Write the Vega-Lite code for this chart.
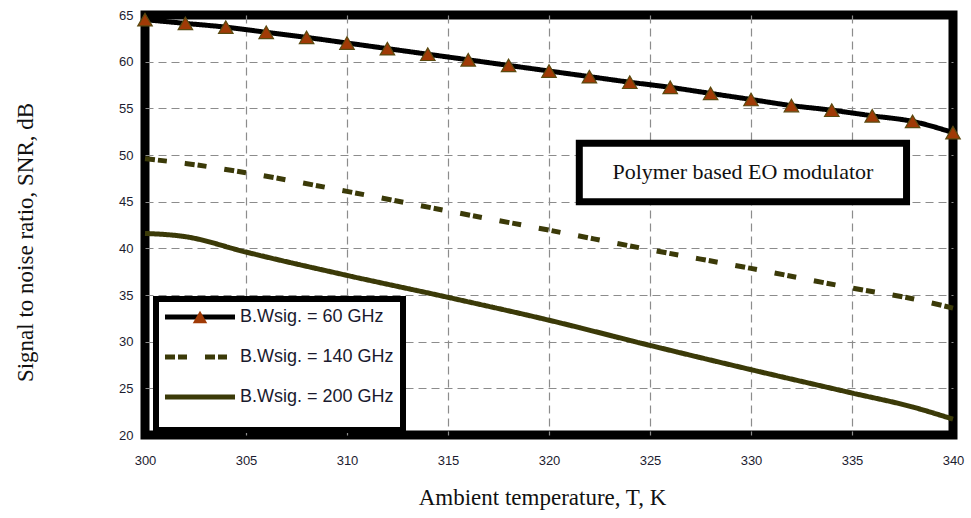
{
  "$schema": "https://vega.github.io/schema/vega-lite/v6.json",
  "width": 808,
  "height": 420,
  "autosize": "none",
  "padding": {"left": 145, "top": 15, "right": 18, "bottom": 83},
  "background": "white",
  "config": {
    "view": {"stroke": "black", "strokeWidth": 9},
    "axis": {
      "grid": true, "gridColor": "#8c8c8c", "gridDash": [8, 5], "gridWidth": 1.2,
      "ticks": false, "domain": false, "labelFlush": false,
      "labelFont": "Liberation Sans", "labelFontSize": 13, "labelColor": "#1c1c30",
      "titleFont": "Liberation Serif", "titleFontWeight": "normal", "titleColor": "#111111"
    }
  },
  "data": {"values": [
    {"T": 300, "snr": 64.5, "series": "B.Wsig. = 60 GHz"},
    {"T": 302, "snr": 64.1, "series": "B.Wsig. = 60 GHz"},
    {"T": 304, "snr": 63.7, "series": "B.Wsig. = 60 GHz"},
    {"T": 306, "snr": 63.15, "series": "B.Wsig. = 60 GHz"},
    {"T": 308, "snr": 62.6, "series": "B.Wsig. = 60 GHz"},
    {"T": 310, "snr": 62.0, "series": "B.Wsig. = 60 GHz"},
    {"T": 312, "snr": 61.4, "series": "B.Wsig. = 60 GHz"},
    {"T": 314, "snr": 60.8, "series": "B.Wsig. = 60 GHz"},
    {"T": 316, "snr": 60.2, "series": "B.Wsig. = 60 GHz"},
    {"T": 318, "snr": 59.6, "series": "B.Wsig. = 60 GHz"},
    {"T": 320, "snr": 59.0, "series": "B.Wsig. = 60 GHz"},
    {"T": 322, "snr": 58.4, "series": "B.Wsig. = 60 GHz"},
    {"T": 324, "snr": 57.8, "series": "B.Wsig. = 60 GHz"},
    {"T": 326, "snr": 57.25, "series": "B.Wsig. = 60 GHz"},
    {"T": 328, "snr": 56.6, "series": "B.Wsig. = 60 GHz"},
    {"T": 330, "snr": 55.95, "series": "B.Wsig. = 60 GHz"},
    {"T": 332, "snr": 55.3, "series": "B.Wsig. = 60 GHz"},
    {"T": 334, "snr": 54.8, "series": "B.Wsig. = 60 GHz"},
    {"T": 336, "snr": 54.2, "series": "B.Wsig. = 60 GHz"},
    {"T": 338, "snr": 53.6, "series": "B.Wsig. = 60 GHz"},
    {"T": 340, "snr": 52.4, "series": "B.Wsig. = 60 GHz"},
    {"T": 300, "snr": 49.6, "series": "B.Wsig. = 140 GHz"},
    {"T": 302, "snr": 49.1, "series": "B.Wsig. = 140 GHz"},
    {"T": 305, "snr": 48.1, "series": "B.Wsig. = 140 GHz"},
    {"T": 310, "snr": 46.1, "series": "B.Wsig. = 140 GHz"},
    {"T": 315, "snr": 44.0, "series": "B.Wsig. = 140 GHz"},
    {"T": 320, "snr": 41.95, "series": "B.Wsig. = 140 GHz"},
    {"T": 325, "snr": 39.85, "series": "B.Wsig. = 140 GHz"},
    {"T": 330, "snr": 37.85, "series": "B.Wsig. = 140 GHz"},
    {"T": 335, "snr": 35.75, "series": "B.Wsig. = 140 GHz"},
    {"T": 338, "snr": 34.6, "series": "B.Wsig. = 140 GHz"},
    {"T": 340, "snr": 33.6, "series": "B.Wsig. = 140 GHz"},
    {"T": 300, "snr": 41.6, "series": "B.Wsig. = 200 GHz"},
    {"T": 302, "snr": 41.25, "series": "B.Wsig. = 200 GHz"},
    {"T": 305, "snr": 39.6, "series": "B.Wsig. = 200 GHz"},
    {"T": 310, "snr": 37.1, "series": "B.Wsig. = 200 GHz"},
    {"T": 315, "snr": 34.75, "series": "B.Wsig. = 200 GHz"},
    {"T": 320, "snr": 32.3, "series": "B.Wsig. = 200 GHz"},
    {"T": 325, "snr": 29.6, "series": "B.Wsig. = 200 GHz"},
    {"T": 330, "snr": 27.0, "series": "B.Wsig. = 200 GHz"},
    {"T": 335, "snr": 24.5, "series": "B.Wsig. = 200 GHz"},
    {"T": 338, "snr": 23.0, "series": "B.Wsig. = 200 GHz"},
    {"T": 340, "snr": 21.7, "series": "B.Wsig. = 200 GHz"}
  ]},
  "layer": [
    {
      "mark": {"type": "line", "strokeWidth": 5, "interpolate": "monotone"},
      "encoding": {
        "x": {"field": "T", "type": "quantitative",
          "scale": {"domain": [300, 340], "nice": false, "zero": false},
          "axis": {"values": [300, 305, 310, 315, 320, 325, 330, 335, 340], "labelPadding": 19,
            "gridOpacity": {"condition": {"test": "datum.value === 300 || datum.value === 340", "value": 0}, "value": 1},
            "title": "Ambient temperature, T, K", "titleFontSize": 23,
            "titleX": 397, "titleY": 62, "titleBaseline": "middle", "titleAlign": "center"}},
        "y": {"field": "snr", "type": "quantitative",
          "scale": {"domain": [20, 65], "nice": false, "zero": false},
          "axis": {"values": [20, 25, 30, 35, 40, 45, 50, 55, 60, 65], "labelPadding": 12,
            "gridOpacity": {"condition": {"test": "datum.value === 20 || datum.value === 65", "value": 0}, "value": 1},
            "title": "Signal to noise ratio, SNR, dB", "titleFontSize": 23,
            "titleX": -120, "titleY": 227, "titleAngle": -90, "titleBaseline": "middle", "titleAlign": "center"}},
        "color": {"field": "series", "type": "nominal",
          "scale": {"domain": ["B.Wsig. = 60 GHz", "B.Wsig. = 140 GHz", "B.Wsig. = 200 GHz"],
                    "range": ["#000000", "#3b3a08", "#3b3a08"]},
          "legend": {"orient": "none", "legendX": 11, "legendY": 284, "title": " ", "titleOrient": "bottom",
            "titleFontSize": 10, "titlePadding": 4,
            "strokeColor": "black", "fillColor": "white", "padding": 9,
            "symbolType": "M-14,0H14", "symbolSize": 25, "symbolStrokeWidth": 5, "symbolOffset": 26,
            "labelFont": "Liberation Sans", "labelFontSize": 18, "labelColor": "#1a1a2e",
            "labelOffset": 31, "rowPadding": 20,
            "encode": {"legend": {"update": {"strokeWidth": {"value": 6}}}}}},
        "strokeDash": {"field": "series", "type": "nominal",
          "scale": {"domain": ["B.Wsig. = 60 GHz", "B.Wsig. = 140 GHz", "B.Wsig. = 200 GHz"],
                    "range": [[1, 0], [10, 3, 9, 18], [1, 0]]},
          "legend": {"orient": "none", "legendX": 11, "legendY": 284, "title": " ", "titleOrient": "bottom",
            "titleFontSize": 10, "titlePadding": 4,
            "strokeColor": "black", "fillColor": "white", "padding": 9,
            "symbolType": "M-14,0H14", "symbolSize": 25, "symbolStrokeWidth": 5, "symbolOffset": 26,
            "labelFont": "Liberation Sans", "labelFontSize": 18, "labelColor": "#1a1a2e",
            "labelOffset": 31, "rowPadding": 20,
            "encode": {"legend": {"update": {"strokeWidth": {"value": 6}}}}}}
      }
    },
    {
      "transform": [{"filter": "datum.series === 'B.Wsig. = 60 GHz'"}],
      "mark": {"type": "point", "filled": true, "fill": "#a03a06", "stroke": "#5a4a10", "strokeWidth": 1.2, "size": 210, "opacity": 1},
      "encoding": {
        "x": {"field": "T", "type": "quantitative"},
        "y": {"field": "snr", "type": "quantitative"},
        "shape": {"field": "series", "type": "nominal",
          "scale": {"domain": ["B.Wsig. = 60 GHz"], "range": ["triangle-up"]},
          "legend": {"orient": "none", "legendX": 47, "legendY": 294, "title": null,
            "padding": 0, "symbolSize": 210, "symbolFillColor": "#a03a06", "symbolStrokeColor": "#5a4a10",
            "symbolStrokeWidth": 1.2, "labelExpr": "''", "labelFontSize": 1}}
      }
    },
    {
      "data": {"values": [{"label": "Polymer based EO modulator"}]},
      "mark": {"type": "rect", "fill": "white", "stroke": "black", "strokeWidth": 7},
      "encoding": {
        "x": {"datum": 321.5, "type": "quantitative"},
        "x2": {"datum": 337.7},
        "y": {"datum": 51.25, "type": "quantitative"},
        "y2": {"datum": 45.0}
      }
    },
    {
      "data": {"values": [{"label": "Polymer based EO modulator"}]},
      "mark": {"type": "text", "font": "Liberation Serif", "fontSize": 22, "color": "#111111", "align": "center", "baseline": "middle"},
      "encoding": {
        "x": {"datum": 329.6, "type": "quantitative"},
        "y": {"datum": 48.15, "type": "quantitative"},
        "text": {"field": "label"}
      }
    }
  ]
}
